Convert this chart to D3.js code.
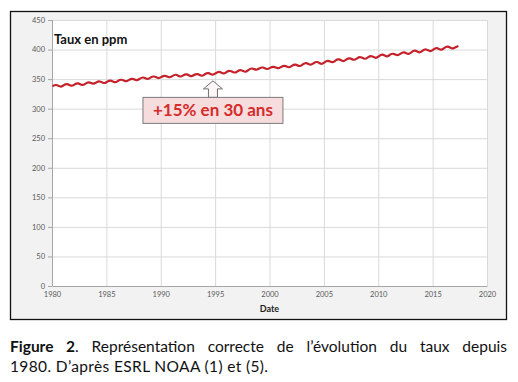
<!DOCTYPE html>
<html>
<head>
<meta charset="utf-8">
<script src="https://cdn.jsdelivr.net/npm/d3@7"></script>
<style>
  body { margin: 0; background: #fff; }
  svg { display: block; font-family: Lato, "Open Sans", sans-serif; }
</style>
</head>
<body>
<div id="chart"></div>
<script>

// CO2 at Mauna Loa: [Jan, May (peak), Oct (trough)] per year
var years = d3.range(1980, 2018);
var co2 = [
    [337.9, 341.5, 336.0], [339.3, 343.0, 337.6], [340.6, 344.5, 338.8], [341.9, 346.0, 340.9],
    [344.1, 347.4, 342.0], [345.3, 348.9, 343.6], [346.6, 350.4, 345.2], [348.1, 351.8, 346.9],
    [350.5, 354.2, 349.0], [352.6, 355.8, 350.4], [353.5, 357.0, 351.8], [354.9, 359.1, 352.9],
    [356.2, 359.6, 353.4], [357.0, 359.9, 354.2], [358.4, 361.6, 356.1], [359.9, 363.7, 358.3],
    [362.1, 365.2, 359.7], [363.2, 366.6, 360.7], [365.3, 369.5, 364.4], [368.2, 370.9, 365.7],
    [369.1, 371.8, 367.2], [370.3, 373.8, 368.6], [372.4, 375.9, 370.5], [375.0, 378.5, 373.0],
    [376.8, 380.6, 374.2], [378.4, 382.3, 377.0], [381.3, 384.8, 379.0], [382.9, 386.4, 381.2],
    [385.4, 388.5, 382.9], [386.9, 390.2, 384.4], [388.5, 393.2, 386.8], [391.2, 394.2, 389.0],
    [393.1, 396.8, 391.0], [395.5, 399.8, 393.6], [397.8, 401.8, 395.8], [399.9, 403.9, 398.2],
    [402.5, 406.7, 400.5], [403.6, 406.0]
];
var monthFrac = [0.04, 0.37, 0.62];

var xTicks = d3.range(1980, 2021, 5);
var yTicks = d3.range(0, 451, 50);

var annotYear = 1994.8, annotValue = 347;
var annotText = "+15% en 30 ans";
var yTitle = "Taux en ppm";
var xTitle = "Date";

// flatten into points
var data = [];
co2.forEach(function (vals, i) {
    vals.forEach(function (v, j) {
        var f = (vals.length === 3) ? [0.04, 0.37, 0.79][j] : monthFrac[j];
        data.push({ time: years[i] + f, value: v });
    });
});

var W = 518, H = 382;
var svg = d3.select("#chart").append("svg")
    .attr("width", W).attr("height", H);

// outer frame with grey background
svg.append("rect")
    .attr("x", 10.5).attr("y", 11.5).attr("width", 496).attr("height", 308)
    .attr("fill", "#f2f2f2").attr("stroke", "#111").attr("stroke-width", 1.3);

const margin = { top: 20, right: 31, bottom: 96, left: 52 };
var width = W - margin.left - margin.right;
var height = H - margin.top - margin.bottom;

var g = svg.append("g").attr("transform", `translate(${margin.left},${margin.top})`);

var xScale = d3.scaleLinear().domain([1980, 2020]).range([0, width]);
var yScale = d3.scaleLinear().domain([0, 450]).range([height, 0]);

g.append("rect").attr("width", width).attr("height", height).attr("fill", "#fff");

// gridlines
g.append("g").selectAll("line").data(yTicks.slice(1)).enter().append("line")
    .attr("x1", 0).attr("x2", width)
    .attr("y1", d => yScale(d) + 0.5).attr("y2", d => yScale(d) + 0.5)
    .attr("stroke", "#d9d9d9");
g.append("g").selectAll("line").data(xTicks.slice(1)).enter().append("line")
    .attr("y1", 0).attr("y2", height)
    .attr("x1", d => xScale(d) + 0.5).attr("x2", d => xScale(d) + 0.5)
    .attr("stroke", "#d9d9d9");

// axes
var yAxis = d3.axisLeft(yScale).tickValues(yTicks).tickSize(4).tickPadding(3);
var xAxis = d3.axisBottom(xScale).tickValues(xTicks).tickSize(0).tickPadding(6).tickFormat(d3.format("d"));

var ya = g.append("g").call(yAxis);
var xa = g.append("g").attr("transform", `translate(0,${height})`).call(xAxis);
[ya, xa].forEach(function (a) {
    a.select(".domain").attr("stroke", "#a6a6a6");
    a.selectAll(".tick line").attr("stroke", "#a6a6a6");
    a.selectAll(".tick text").attr("fill", "#595959").style("font-size", "7.5px")
        .style("font-family", "Lato, sans-serif");
});
ya.select(".domain").attr("d", `M0.5,0V${height}`);

// titles
g.append("text").attr("x", 2).attr("y", 23.5)
    .style("font-size", "13px").style("font-weight", "bold").attr("fill", "#111")
    .text(yTitle);
svg.append("text").attr("x", margin.left + width / 2).attr("y", 312)
    .attr("text-anchor", "middle")
    .style("font-size", "9px").style("font-weight", "bold").attr("fill", "#222")
    .text(xTitle);

// the curve
var line = d3.line()
    .x(d => xScale(d.time))
    .y(d => yScale(d.value))
    .curve(d3.curveBasis);

g.append("path").datum(data)
    .attr("d", line)
    .attr("fill", "none")
    .attr("stroke", "#c4212b")
    .attr("stroke-width", 2.2)
    .attr("stroke-linejoin", "round");

// annotation: block arrow + box
var tx = xScale(annotYear), ty = yScale(annotValue);
var boxTop = ty + 16.5, boxH = 26, boxW = 140;
var arrow = [
    [tx, ty], [tx + 9.5, ty + 8], [tx + 4.5, ty + 8], [tx + 4.5, boxTop],
    [tx - 4.5, boxTop], [tx - 4.5, ty + 8], [tx - 9.5, ty + 8]
];
g.append("path")
    .attr("d", "M" + arrow.join("L") + "Z")
    .attr("fill", "#fdf6f6").attr("stroke", "#6f6f6f").attr("stroke-width", 1);

g.append("rect")
    .attr("x", tx - boxW / 2).attr("y", boxTop)
    .attr("width", boxW).attr("height", boxH)
    .attr("fill", "#f6dcdc").attr("stroke", "#7a7a7a").attr("stroke-width", 1);
g.append("text")
    .attr("x", tx).attr("y", boxTop + 19)
    .attr("text-anchor", "middle")
    .style("font-size", "17px").style("font-weight", "bold")
    .attr("fill", "#d42b2b")
    .text(annotText);

// caption
var cap1 = svg.append("text").attr("x", 10).attr("y", 352)
    .style("font-size", "15.5px").attr("fill", "#111");
cap1.append("tspan").style("font-weight", "bold").text("Figure 2");
cap1.append("tspan").text(". Représentation correcte de l’évolution du taux depuis");
var len = cap1.node().getComputedTextLength();
var gaps = 8;
cap1.attr("word-spacing", (497 - len) / gaps);

var cap2 = svg.append("text").attr("x", 10).attr("y", 372)
    .style("font-size", "15.5px").attr("fill", "#111")
    .text("1980. D’après ESRL NOAA (1) et (5).");
cap2.attr("textLength", 258).attr("lengthAdjust", "spacing");

</script>
</body>
</html>
